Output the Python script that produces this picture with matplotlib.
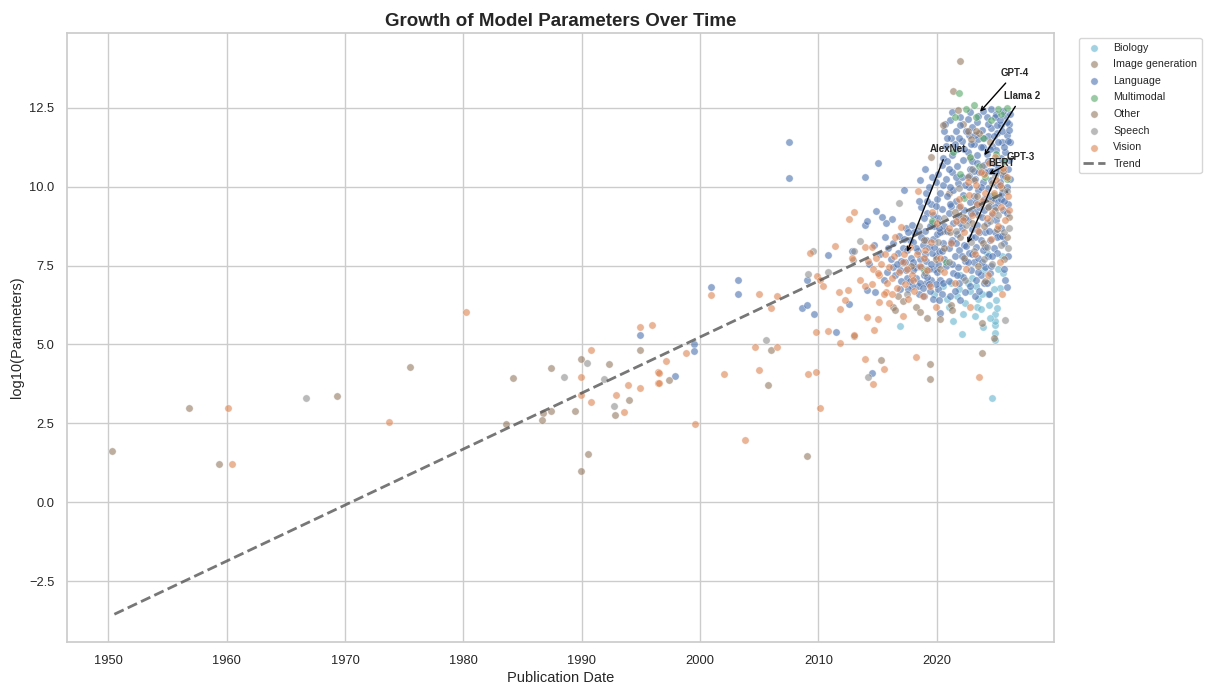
import matplotlib
matplotlib.use("Agg")
import matplotlib.pyplot as plt
import seaborn as sns

# categories in legend order
categories = ["Biology", "Image generation", "Language", "Multimodal", "Other", "Speech", "Vision"]
colors = {"Biology": "#64B5CD", "Image generation": "#937860", "Language": "#4C72B0",
          "Multimodal": "#55A868", "Other": "#937860", "Speech": "#8C8C8C", "Vision": "#DD8452"}

# (publication year, log10 params)
biology = [(2016.9, 5.59), (2022.1, 5.34), (2024.7, 3.30), (2024.9, 5.15), (2024.95, 5.35), (2024.9, 5.6),
           (2024.9, 5.75), (2024.9, 5.95), (2023.4, 6.18), (2023.7, 6.12), (2021.0, 6.2), (2023.5, 6.45),
           (2024.3, 6.60), (2025.0, 6.40), (2025.3, 6.80), (2024.6, 7.05), (2022.8, 6.70), (2023.0, 7.10),
           (2024.0, 7.35), (2025.6, 7.25), (2022.4, 6.30), (2021.7, 6.55), (2020.5, 6.85), (2019.8, 6.60),
           (2025.1, 6.15), (2024.5, 5.85), (2023.9, 5.55), (2021.4, 5.75), (2025.5, 7.80), (2024.2, 7.90),
           (2022.0, 7.20), (2023.2, 5.90), (2021.2, 6.95), (2021.9, 6.75), (2022.6, 6.95), (2023.3, 6.85),
           (2023.8, 6.60), (2024.4, 6.25), (2024.8, 6.75), (2022.2, 5.95), (2025.2, 7.40), (2020.9, 6.45)]

image_gen = [(2021.4, 13.04), (2022.8, 10.90), (2023.5, 9.10), (2021.0, 9.80), (2024.6, 9.55),
             (2020.5, 8.60), (2022.2, 12.00), (2025.3, 10.45)]

language = [
    (2007.5, 11.43), (2007.5, 10.27), (2000.9, 6.81), (2003.2, 7.05), (2003.2, 6.59), (2008.6, 6.15),
    (2009.0, 6.24), (2009.6, 5.98), (2009.0, 7.05), (2010.8, 7.84), (2012.8, 7.97), (2011.5, 5.38),
    (2012.6, 6.28), (1999.5, 5.02), (1999.5, 4.79), (1997.9, 3.99), (1994.9, 5.29), (2014.5, 4.08),
    (2013.9, 8.80), (2014.1, 8.92), (2013.9, 10.29), (2014.9, 9.24), (2015.0, 10.75), (2014.3, 7.55),
    (2014.7, 8.15), (2015.2, 7.85), (2014.1, 6.74), (2014.8, 6.66), (2015.4, 9.05), (2015.6, 8.40),
    (2015.8, 7.30), (2015.5, 7.05), (2016.2, 8.98), (2016.1, 7.70), (2018.4, 6.85),
    (2016.5, 7.20), (2016.3, 8.20),
    (2016.7, 7.90), (2016.8, 8.45), (2016.9, 7.35), (2019.1, 6.95), (2017.2, 9.90), (2017.1, 8.05),
    (2017.3, 7.60), (2017.4, 8.70), (2017.5, 7.10), (2019.5, 7.05), (2017.7, 8.30), (2017.8, 7.75),
    (2017.9, 6.85), (2019.9, 7.80), (2018.1, 8.55), (2018.2, 7.45), (2020.1, 6.75), (2018.4, 7.95),
    (2018.5, 6.60), (2018.6, 10.20), (2018.7, 9.35), (2018.8, 8.15), (2018.9, 7.20), (2017.0, 7.00),
    (2017.5, 8.00), (2018.0, 8.25), (2018.2, 7.10), (2018.9, 6.55), (2016.9, 6.75), (2018.6, 6.95),
    (2019.0, 10.55), (2019.1, 9.80), (2019.2, 9.15), (2019.0, 8.60), (2019.3, 8.10), (2019.1, 7.65),
    (2019.2, 7.15), (2019.4, 6.70), (2019.5, 9.45), (2019.6, 8.85), (2019.7, 8.35), (2019.6, 7.90),
    (2019.8, 7.40), (2019.7, 6.45), (2019.9, 10.15), (2020.0, 9.60), (2020.1, 9.00), (2020.0, 8.50),
    (2020.2, 7.95), (2020.1, 7.55), (2020.3, 7.05), (2020.3, 5.99), (2020.4, 10.70), (2020.5, 10.05),
    (2020.4, 9.30), (2020.6, 8.75), (2020.5, 8.20), (2020.6, 7.70), (2020.4, 6.60), (2020.6, 11.77),
    (2019.3, 10.00), (2019.9, 6.90), (2020.2, 6.40),
    (2019.8, 8.75), (2018.7, 7.45), (2017.0, 7.65), (2017.2, 8.35), (2020.3, 8.55), (2017.4, 7.35),
    (2017.6, 8.55), (2017.7, 7.00), (2017.9, 8.80), (2018.0, 7.60), (2019.3, 7.40), (2018.2, 8.05),
    (2018.4, 8.60), (2018.5, 9.55), (2018.6, 7.70), (2018.7, 8.40), (2018.8, 6.80), (2018.9, 9.00),
    (2019.0, 7.85), (2019.1, 8.30), (2019.2, 9.55), (2019.3, 6.90), (2019.4, 8.75), (2019.5, 7.55),
    (2019.6, 10.30), (2019.7, 9.10), (2019.8, 8.10), (2019.9, 9.40), (2020.0, 7.30), (2020.1, 10.40),
    (2020.2, 8.70), (2020.3, 9.80), (2020.4, 7.95), (2020.5, 6.95), (2015.9, 8.05), (2017.6, 6.75),
    (2016.3, 7.45), (2015.7, 8.85), (2016.6, 7.55), (2020.5, 10.90), (2018.0, 7.35),
    (2020.8, 11.30), (2020.9, 10.80), (2020.8, 10.25), (2020.9, 9.70), (2021.0, 9.15), (2020.9, 8.60),
    (2021.0, 8.05), (2020.8, 7.50), (2021.0, 7.00), (2021.1, 6.55), (2021.1, 12.10), (2021.2, 11.55),
    (2021.3, 11.00), (2021.3, 10.45), (2021.4, 9.90), (2021.2, 9.40), (2021.4, 8.85), (2021.3, 8.30),
    (2021.5, 7.80), (2021.4, 7.25), (2021.5, 6.70), (2021.6, 11.75), (2021.7, 11.20), (2021.7, 10.65),
    (2021.8, 10.10), (2021.6, 9.55), (2021.8, 9.05), (2021.7, 8.50), (2021.9, 8.00), (2021.8, 7.45),
    (2021.9, 6.95), (2022.0, 6.40), (2022.0, 11.95), (2022.1, 11.45), (2022.2, 10.85), (2022.1, 10.30),
    (2022.2, 9.75), (2022.3, 9.25), (2022.1, 8.70), (2022.3, 8.15), (2022.4, 7.65), (2022.2, 7.15),
    (2022.4, 6.65), (2022.5, 8.13),
    (2022.6, 12.15), (2022.7, 11.65), (2022.6, 11.10), (2022.8, 10.55), (2022.7, 10.00), (2022.8, 9.50),
    (2022.6, 8.95), (2022.9, 8.40), (2022.7, 7.90), (2022.9, 7.35), (2022.8, 6.85), (2023.0, 11.90),
    (2023.1, 11.35), (2023.0, 10.80), (2023.2, 10.25), (2023.1, 9.70), (2023.2, 9.20), (2023.0, 8.65),
    (2023.3, 8.10), (2023.1, 7.60), (2023.3, 7.05), (2023.2, 6.55), (2023.4, 12.05), (2023.5, 11.50),
    (2023.4, 11.00), (2023.6, 10.45), (2023.5, 9.90), (2023.6, 9.35), (2023.4, 8.80), (2023.7, 8.30),
    (2023.5, 7.75), (2023.7, 7.20), (2023.6, 6.70), (2023.8, 11.80), (2023.9, 11.25), (2024.0, 10.70),
    (2023.9, 10.15), (2024.0, 9.60), (2023.8, 9.05), (2024.1, 8.55), (2023.9, 8.00), (2024.1, 7.45),
    (2024.0, 6.95), (2024.2, 12.20), (2024.3, 11.60), (2024.2, 11.05), (2024.4, 10.50), (2024.3, 9.95),
    (2024.4, 9.40), (2024.2, 8.85), (2024.5, 8.30), (2024.3, 7.80), (2024.5, 7.25), (2024.4, 6.60),
    (2024.6, 11.85), (2024.7, 11.30), (2024.8, 10.75), (2024.6, 10.20), (2024.8, 9.65), (2024.7, 9.10),
    (2024.9, 8.55), (2024.8, 8.05), (2024.6, 7.50), (2025.0, 12.30), (2025.1, 11.70), (2025.0, 11.15),
    (2025.2, 10.60), (2025.1, 10.05), (2025.2, 9.50), (2025.0, 8.95), (2025.3, 8.45), (2025.1, 7.90),
    (2025.4, 11.95), (2025.5, 11.40), (2025.4, 10.90), (2025.6, 10.35), (2025.5, 9.80), (2025.6, 9.25),
    (2025.4, 8.70), (2025.7, 8.20), (2025.8, 12.25), (2025.9, 11.65), (2025.8, 11.10), (2026.0, 10.55),
    (2025.9, 10.00), (2026.1, 12.00), (2026.0, 9.45), (2025.9, 6.81), (2025.7, 7.40), (2026.2, 11.40),
    (2020.7, 12.00), (2020.9, 11.55), (2021.0, 10.55), (2021.1, 9.45), (2021.2, 8.25), (2021.3, 7.55),
    (2021.1, 10.00), (2021.5, 11.35), (2021.6, 10.30), (2021.6, 8.20), (2021.7, 7.20), (2021.9, 11.55),
    (2021.9, 9.35), (2022.0, 8.85), (2022.1, 7.80), (2022.3, 11.20), (2022.4, 10.05), (2022.4, 9.00),
    (2022.5, 11.75), (2022.6, 7.60), (2022.7, 10.35), (2022.8, 12.35), (2022.9, 9.15), (2022.9, 11.35),
    (2023.0, 7.85), (2023.1, 10.50), (2023.2, 11.65), (2023.2, 8.40), (2023.3, 9.50), (2023.4, 10.75),
    (2023.5, 12.25), (2023.5, 7.30), (2023.6, 8.55), (2023.7, 11.25), (2023.7, 10.00), (2023.8, 7.60),
    (2023.9, 12.40), (2024.0, 9.25), (2024.0, 11.55), (2024.1, 10.45), (2024.1, 8.10), (2024.3, 12.00),
    (2024.3, 10.80), (2024.4, 8.60), (2024.5, 11.20), (2024.5, 9.70), (2024.6, 12.45), (2024.7, 10.50),
    (2024.7, 7.80), (2024.8, 11.60), (2024.9, 9.35), (2024.9, 12.20), (2025.0, 10.45), (2025.1, 11.95),
    (2025.1, 8.40), (2025.2, 11.40), (2025.3, 10.15), (2025.3, 12.10), (2025.4, 9.60), (2025.5, 11.75),
    (2025.5, 8.45), (2025.6, 12.40), (2025.6, 10.80), (2025.7, 11.25), (2025.7, 9.55), (2025.8, 10.35),
    (2025.9, 12.05), (2025.9, 9.15), (2026.0, 11.45), (2026.1, 10.85), (2026.1, 11.80), (2026.2, 12.30),
    (2026.2, 10.25), (2026.0, 7.80), (2025.8, 7.05), (2024.2, 6.95), (2022.0, 12.20), (2021.3, 12.35)]

multimodal = [(2021.9, 12.96), (2023.3, 12.22), (2025.4, 12.30), (2021.5, 12.20), (2022.5, 12.45),
              (2023.9, 11.55), (2024.6, 12.10), (2022.8, 10.95), (2023.6, 10.65), (2024.1, 10.30),
              (2025.0, 11.05), (2025.7, 10.80), (2022.0, 10.40), (2021.4, 11.10), (2024.8, 9.75),
              (2025.9, 10.25), (2022.3, 9.65), (2019.6, 8.90), (2018.9, 7.35), (2020.8, 7.60),
              (2023.1, 12.60), (2025.2, 12.45), (2025.9, 12.50)]

other = [(1950.3, 1.61), (1956.8, 2.97), (1959.3, 1.2), (1969.3, 3.35), (1975.5, 4.3), (1984.2, 3.95),
         (1987.4, 4.24), (1989.9, 4.53), (1992.3, 4.38), (1989.4, 2.88), (1987.4, 2.88), (1986.7, 2.83),
         (1986.6, 2.59), (1983.6, 2.49), (1990.5, 1.53), (1989.9, 0.98), (1994.0, 3.25), (1992.8, 2.75),
         (1994.9, 4.83), (1997.4, 3.87), (2006.0, 4.83), (2005.7, 3.72), (2009.0, 1.46), (2013.0, 5.28),
         (2016.7, 6.53), (2017.1, 6.37), (2016.3, 6.18), (2016.5, 6.08), (2018.2, 6.18), (2018.6, 6.04),
         (2019.2, 5.85), (2020.3, 5.79), (2015.3, 4.52), (2019.4, 4.39), (2019.4, 3.91), (2023.8, 4.72),
         (2024.8, 5.2), (2023.8, 5.67), (2021.2, 6.25), (2021.3, 6.10), (2022.0, 13.97), (2021.8, 12.44),
         (2020.5, 11.96), (2019.5, 10.95), (2021.5, 9.20), (2022.0, 8.40), (2022.6, 10.30), (2023.0, 8.85),
         (2023.4, 9.70), (2023.9, 8.20), (2024.3, 9.35), (2024.7, 10.10), (2025.1, 8.65), (2025.5, 9.95),
         (2025.9, 8.40), (2022.9, 11.50), (2023.6, 11.70), (2024.5, 11.40), (2020.6, 8.05), (2019.9, 7.70),
         (2018.9, 8.30), (2017.8, 7.50), (2025.7, 7.70), (2024.1, 7.00), (2022.3, 7.75), (2023.3, 11.75),
         (2022.6, 11.75), (2022.2, 9.05), (2023.1, 10.20), (2024.0, 8.75), (2024.9, 9.25), (2025.6, 10.50),
         (2026.1, 9.05), (2023.5, 7.50), (2021.1, 8.55), (2020.3, 7.40)]

speech = [(1966.7, 3.3), (1988.5, 3.97), (1990.4, 4.41), (1991.9, 3.89), (1992.7, 3.04), (2005.6, 5.15),
          (2009.1, 7.24), (2009.5, 7.97), (2010.8, 7.29), (2012.9, 7.66), (2013.0, 7.97), (2013.5, 8.29),
          (2016.8, 9.47), (2014.2, 3.97), (2025.8, 5.76), (2019.0, 7.25), (2020.1, 8.25), (2021.0, 7.60),
          (2021.9, 9.95), (2022.5, 8.80), (2023.1, 7.95), (2023.7, 9.45), (2024.2, 8.10), (2024.7, 7.55),
          (2025.2, 9.10), (2025.7, 8.55), (2026.0, 8.05), (2023.0, 10.55), (2024.9, 10.35), (2017.5, 6.60),
          (2018.5, 8.75), (2022.4, 7.05), (2022.9, 8.25), (2023.8, 10.65), (2024.5, 8.90), (2025.4, 8.15),
          (2025.9, 9.85), (2026.1, 8.70), (2021.6, 8.60), (2020.6, 9.00), (2024.0, 7.70)]

vision = [
    (1960.1, 2.97), (1960.4, 1.2), (1973.7, 2.53), (1980.2, 6.04), (1990.8, 4.83), (1989.9, 3.97),
    (1989.9, 3.39), (1990.8, 3.17), (1993.9, 3.73), (1992.9, 3.39), (1994.9, 3.62), (1993.6, 2.85),
    (1994.9, 5.56), (1995.9, 5.61), (1996.4, 4.12), (1996.4, 3.79), (1998.8, 4.74), (1999.6, 2.49),
    (1997.1, 4.49), (1996.5, 4.11), (1996.5, 3.78), (2000.9, 6.57), (2005.0, 6.59), (2006.5, 6.53),
    (2006.0, 6.15), (2006.5, 4.93), (2004.6, 4.93), (2005.0, 4.19), (2002.0, 4.06), (2003.8, 1.97),
    (2013.9, 8.10), (2014.5, 8.10), (2013.0, 9.2), (2012.6, 8.97), (2011.4, 8.12), (2009.3, 7.89),
    (2012.8, 7.75), (2009.9, 7.18), (2010.1, 7.05), (2010.4, 6.84), (2011.7, 6.67), (2012.5, 6.72),
    (2012.2, 6.40), (2011.8, 6.11), (2009.8, 5.39), (2010.8, 5.43), (2011.8, 5.06), (2013.0, 5.31),
    (2009.1, 4.06), (2009.8, 4.14), (2010.1, 2.98), (2013.9, 4.54), (2015.5, 4.21), (2014.6, 3.76),
    (2018.2, 4.61), (2023.6, 3.97), (2014.1, 5.88), (2015.0, 5.81), (2014.7, 5.46), (2017.1, 5.89),
    (2015.7, 6.66), (2015.1, 6.34), (2016.0, 6.32), (2019.9, 6.18),
    (2014.2, 7.65), (2014.6, 7.40), (2014.9, 7.75), (2015.1, 7.20), (2015.3, 7.55), (2015.6, 7.85),
    (2015.8, 6.95), (2016.0, 7.45), (2016.2, 7.10), (2016.4, 7.80), (2016.6, 6.80), (2016.8, 7.30),
    (2017.0, 8.71), (2017.1, 7.60), (2017.3, 6.90), (2017.5, 7.40), (2017.7, 8.10), (2017.9, 7.20),
    (2018.1, 6.70), (2018.3, 7.85), (2018.4, 9.87), (2018.6, 7.50), (2018.8, 6.55), (2019.0, 8.00),
    (2019.2, 7.35), (2019.4, 6.85), (2016.5, 8.40), (2015.5, 6.60), (2014.5, 6.90), (2017.6, 6.45),
    (2013.9, 6.85), (2013.5, 7.05),
    (2021.2, 8.20), (2021.6, 8.90), (2022.0, 9.40), (2022.3, 8.55), (2022.7, 9.75), (2023.0, 9.10),
    (2023.3, 10.05), (2023.5, 8.60), (2023.8, 9.55), (2024.0, 10.40), (2024.2, 9.00), (2024.4, 10.75),
    (2024.6, 8.35), (2024.8, 9.80), (2025.0, 10.20), (2025.2, 8.75), (2025.4, 9.35), (2025.6, 10.60),
    (2025.8, 8.95), (2026.0, 9.70), (2022.5, 7.40), (2023.2, 7.85), (2024.3, 7.20), (2025.3, 7.60),
    (2020.6, 7.30), (2020.0, 8.85), (2019.6, 9.20), (2021.5, 6.95), (2022.8, 6.20), (2025.5, 6.60),
    (2024.9, 10.95), (2016.2, 6.60), (2017.2, 7.85), (2018.0, 7.05), (2018.9, 7.75), (2019.5, 8.25),
    (2020.3, 7.75), (2021.0, 8.70), (2021.9, 9.60), (2022.6, 10.15), (2023.4, 9.45), (2024.1, 9.80),
    (2024.7, 9.15), (2025.3, 10.05), (2025.9, 10.30), (2026.1, 9.25), (2023.7, 10.45), (2022.2, 8.95),
    (2015.0, 7.25)]

series = [biology, image_gen, language, multimodal, other, speech, vision]

# trend line end points
trend_x = [1950.5, 2026.0]
trend_y = [-3.55, 9.85]

# annotations: label, point, text position
notable = ["GPT-4", "Llama 2", "AlexNet", "BERT", "GPT-3"]
notable_xy = [(2023.5, 12.31), (2023.9, 10.92), (2017.4, 7.85), (2022.5, 8.13), (2024.2, 10.35)]
notable_text = [(2026.6, 13.61), (2027.2, 12.88), (2020.9, 11.2), (2025.5, 10.76), (2027.1, 10.95)]

sns.set_theme(style="whitegrid")
plt.rcParams["font.family"] = ["Liberation Sans", "DejaVu Sans"]

fig, ax = plt.subplots(figsize=(12.08, 6.84), dpi=100)
fig.subplots_adjust(left=0.0555, right=0.8725, top=0.9518, bottom=0.0614)

for cat, pts in zip(categories, series):
    xs, ys = zip(*pts)
    ax.scatter(xs, ys, s=28, color=colors[cat], alpha=0.6, edgecolor="white",
               linewidth=0.4, label=cat)

ax.plot(trend_x, trend_y, "--", color="#555555", lw=2, alpha=0.8, label="Trend")

for name, xy, txt in zip(notable, notable_xy, notable_text):
    ax.annotate(name, xy=xy, xytext=txt, fontsize=7, fontweight="bold", ha="center", va="center",
                arrowprops=dict(arrowstyle="->", color="black", lw=1))

ax.set_xlim(1946.5, 2029.9)
ax.set_ylim(-4.43, 14.87)
ax.set_xticks([1950, 1960, 1970, 1980, 1990, 2000, 2010, 2020])
ax.set_title("Growth of Model Parameters Over Time", fontsize=13.5, fontweight="bold", pad=5)
ax.set_xlabel("Publication Date", fontsize=10.5, labelpad=3)
ax.set_ylabel("log10(Parameters)", fontsize=10.5)
ax.tick_params(labelsize=9.3, pad=3)
ax.legend(bbox_to_anchor=(1.02, 1), loc="upper left", fontsize=7.7, frameon=True, labelspacing=0.62)

fig.savefig("out.png", dpi=100)
